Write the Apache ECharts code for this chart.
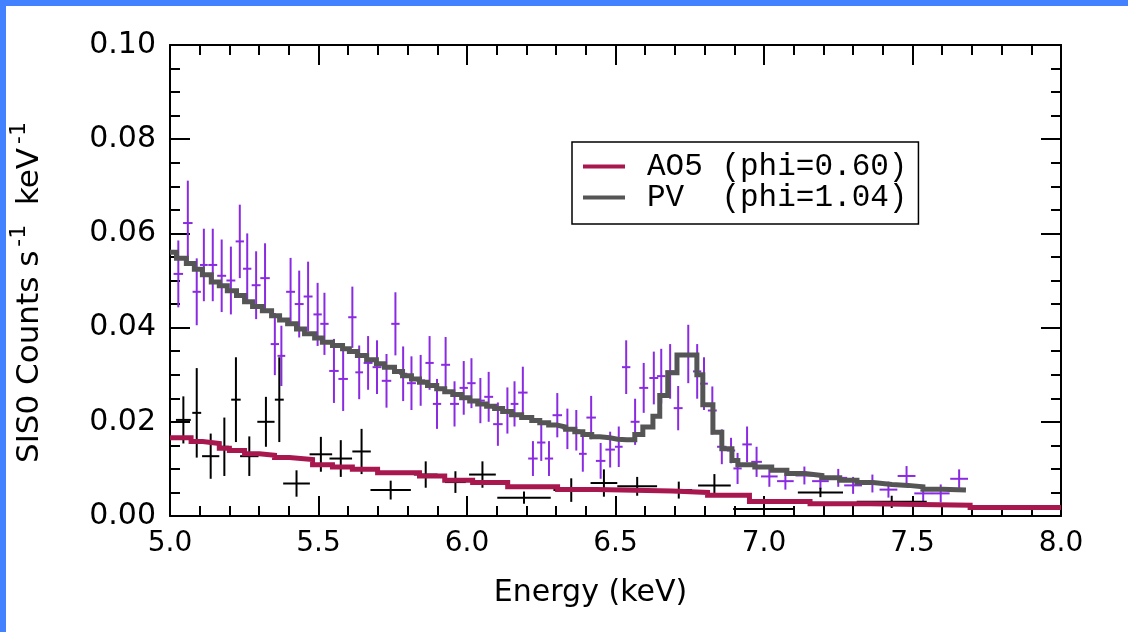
<!DOCTYPE html>
<html>
<head>
<meta charset="utf-8">
<script src="https://cdn.jsdelivr.net/npm/echarts@6/dist/echarts.min.js"></script>
<style>
  html, body { margin: 0; padding: 0; background: #fff; }
  #wrap { position: relative; width: 1128px; height: 632px; overflow: hidden; background: #fff; }
  #chart { position: absolute; left: 0; top: 0; width: 1128px; height: 632px; }
  .edgeTop { position: absolute; left: 0; top: 0; width: 1128px; height: 6px; background: #4281ff; }
  .edgeLeft { position: absolute; left: 0; top: 0; width: 6px; height: 632px; background: #4281ff; }
</style>
</head>
<body>
<div id="wrap">
  <div id="chart"></div>
  <div class="edgeTop"></div>
  <div class="edgeLeft"></div>
</div>
<script>
// ---------- PV (phi=1.04) data: bin centre (keV), rate, 1-sigma error, bin half-width ----------
const pvE = [5.028,5.060,5.090,5.114,5.144,5.174,5.205,5.235,5.260,5.290,
             5.320,5.353,5.375,5.406,5.435,5.465,5.497,5.520,5.552,5.583,
             5.614,5.637,5.667,5.697,5.729,5.759,5.785,5.813,5.844,5.874,
             5.899,5.928,5.958,5.989,6.015,6.045,6.073,6.104,6.136,6.160,
             6.188,6.222,6.250,6.276,6.304,6.338,6.368,6.390,6.418,6.450,
             6.482,6.511,6.536,6.566,6.595,6.629,6.654,6.684,6.711,6.745,
             6.775,6.798,6.826,6.858,6.889,6.911,6.943,6.975,7.018,7.072,
             7.136,7.190,7.250,7.300,7.365,7.419,7.480,7.536,7.595,7.657];
const pvY = [0.0514,0.0622,0.0476,0.0533,0.0533,0.0510,0.0500,0.0583,0.0525,0.0490,
             0.0505,0.0365,0.0340,0.0476,0.0450,0.0466,0.0428,0.0408,0.0308,0.0291,
             0.0422,0.0305,0.0325,0.0316,0.0287,0.0408,0.0302,0.0282,0.0288,0.0325,
             0.0238,0.0321,0.0238,0.0272,0.0282,0.0245,0.0253,0.0195,0.0224,0.0238,
             0.0262,0.0122,0.0156,0.0122,0.0214,0.0185,0.0182,0.0132,0.0209,0.0117,
             0.0141,0.0147,0.0316,0.0200,0.0272,0.0293,0.0297,0.0307,0.0229,0.0344,
             0.0307,0.0281,0.0224,0.0147,0.0139,0.0101,0.0152,0.0115,0.0084,0.0074,
             0.0086,0.0074,0.0081,0.0065,0.0069,0.0056,0.0085,0.0048,0.0048,0.0079];
const pvErr = [0.0071,0.0090,0.0071,0.0077,0.0077,0.0077,0.0072,0.0078,0.0075,0.0072,
               0.0074,0.0066,0.0064,0.0072,0.0071,0.0074,0.0067,0.0066,0.0068,0.0068,
               0.0065,0.0057,0.0057,0.0057,0.0057,0.0067,0.0058,0.0057,0.0054,0.0057,
               0.0053,0.0059,0.0048,0.0057,0.0053,0.0048,0.0053,0.0046,0.0049,0.0048,
               0.0055,0.0037,0.0039,0.0037,0.0047,0.0043,0.0043,0.0038,0.0046,0.0038,
               0.0038,0.0043,0.0057,0.0049,0.0053,0.0056,0.0058,0.0058,0.0047,0.0062,
               0.0058,0.0056,0.0051,0.0037,0.0027,0.0033,0.0038,0.0032,0.0022,0.0018,
               0.0019,0.0017,0.0019,0.0018,0.0019,0.0017,0.0021,0.0017,0.0019,0.0020];
const pvHw = [0.016,0.016,0.014,0.013,0.015,0.015,0.015,0.014,0.014,0.015,
              0.016,0.014,0.013,0.015,0.015,0.015,0.014,0.014,0.016,0.016,
              0.014,0.013,0.015,0.015,0.016,0.014,0.014,0.015,0.015,0.014,
              0.014,0.015,0.015,0.014,0.014,0.015,0.015,0.016,0.014,0.013,
              0.016,0.016,0.014,0.014,0.016,0.016,0.013,0.013,0.016,0.016,
              0.016,0.013,0.014,0.015,0.015,0.015,0.014,0.015,0.015,0.016,
              0.014,0.013,0.015,0.016,0.014,0.014,0.016,0.018,0.028,0.028,
              0.030,0.028,0.030,0.030,0.030,0.030,0.030,0.030,0.030,0.030];

// ---------- AO5 (phi=0.60) data ----------
const aoE = [5.045,5.090,5.137,5.183,5.222,5.267,5.323,5.368,5.426,5.508,
             5.575,5.645,5.743,5.861,5.961,6.052,6.192,6.351,6.461,6.573,
             6.713,6.833,7.000,7.190,7.430];
const aoY = [0.0204,0.0219,0.0127,0.0147,0.0247,0.0127,0.0200,0.0247,0.0069,0.0131,
             0.0122,0.0137,0.0055,0.0088,0.0072,0.0088,0.0039,0.0055,0.0070,0.0063,
             0.0055,0.0065,0.0015,0.0050,0.0030];
const aoErr = [0.0050,0.0095,0.0048,0.0062,0.0090,0.0042,0.0053,0.0090,0.0028,0.0037,
               0.0039,0.0048,0.0020,0.0028,0.0023,0.0028,0.0013,0.0025,0.0029,0.0020,
               0.0018,0.0024,0.0015,0.0010,0.0013];
const aoHw = [0.025,0.015,0.029,0.015,0.016,0.031,0.029,0.015,0.045,0.038,
              0.038,0.031,0.068,0.040,0.035,0.045,0.090,0.060,0.045,0.067,
              0.045,0.055,0.104,0.076,0.118];

// ---------- folded models: step left edges (keV) and values; last entry closes the final step ----------
const pvModelE = [5.000,5.022,5.055,5.082,5.109,5.139,5.166,5.193,5.224,5.251,
                  5.278,5.311,5.342,5.369,5.396,5.426,5.453,5.487,5.513,5.547,
                  5.581,5.604,5.631,5.662,5.695,5.722,5.756,5.783,5.813,5.840,
                  5.867,5.898,5.925,5.952,5.982,6.009,6.036,6.066,6.093,6.120,
                  6.150,6.184,6.218,6.245,6.275,6.302,6.332,6.363,6.390,6.420,
                  6.447,6.481,6.507,6.538,6.565,6.592,6.626,6.649,6.676,6.707,
                  6.774,6.794,6.828,6.858,6.892,6.912,6.969,7.026,7.077,7.138,
                  7.195,7.255,7.313,7.367,7.431,7.485,7.535,7.599,7.680];
const pvModelY = [0.0560,0.0547,0.0536,0.0524,0.0512,0.0497,0.0489,0.0478,0.0468,0.0455,
                  0.0445,0.0436,0.0425,0.0416,0.0408,0.0397,0.0387,0.0378,0.0369,0.0362,
                  0.0355,0.0349,0.0341,0.0332,0.0323,0.0316,0.0307,0.0298,0.0291,0.0284,
                  0.0277,0.0270,0.0264,0.0258,0.0251,0.0244,0.0238,0.0233,0.0228,0.0222,
                  0.0215,0.0209,0.0203,0.0198,0.0193,0.0189,0.0184,0.0179,0.0173,0.0168,
                  0.0166,0.0163,0.0162,0.0162,0.0173,0.0189,0.0212,0.0256,0.0304,0.0342,
                  0.0300,0.0236,0.0178,0.0143,0.0118,0.0109,0.0104,0.0097,0.0090,0.0086,
                  0.0081,0.0076,0.0071,0.0067,0.0065,0.0062,0.0057,0.0055,0.0055];
const aoModelE = [5.000,5.071,5.110,5.166,5.200,5.251,5.301,5.352,5.402,5.480,
                  5.547,5.614,5.699,5.840,5.925,6.019,6.137,6.305,6.437,6.690,
                  6.810,6.951,7.155,7.357,7.694,8.000];
const aoModelY = [0.0166,0.0158,0.0154,0.0144,0.0139,0.0132,0.0129,0.0124,0.0120,0.0109,
                  0.0104,0.0099,0.0092,0.0085,0.0076,0.0071,0.0062,0.0056,0.0053,0.0050,
                  0.0044,0.0031,0.0026,0.0023,0.0018,0.0018];

// ---------- axis ticks ----------
const xTicks = {min: 5.0, max: 8.0, interval: 0.5};
const yTicks = {min: 0.0, max: 0.10, interval: 0.02};

const seriesNames = ['AO5 (phi=0.60)', 'PV  (phi=1.04)'];

function zip4(a, b, c, d) { return a.map((v, i) => [v, b[i], c[i], d[i]]); }
function zip2(a, b) { return a.map((v, i) => [v, b[i]]); }

function errRender(color) {
  return function (params, api) {
    const x = api.value(0), y = api.value(1), e = api.value(2), h = api.value(3);
    const pTop = api.coord([x, y + e]);
    const pBot = api.coord([x, Math.max(y - e, 0)]);
    const pL = api.coord([x - h, y]);
    const pR = api.coord([x + h, y]);
    const style = {stroke: color, lineWidth: 2};
    return {
      type: 'group',
      children: [
        {type: 'line', shape: {x1: pTop[0], y1: pTop[1], x2: pBot[0], y2: pBot[1]}, style: style},
        {type: 'line', shape: {x1: pL[0], y1: pL[1], x2: pR[0], y2: pR[1]}, style: style}
      ]
    };
  };
}

const FONT = 'DejaVu Sans';
const axisCommonX = {
  type: 'value', min: xTicks.min, max: xTicks.max, interval: xTicks.interval,
  axisLine: {show: true, onZero: false, lineStyle: {color: '#000', width: 2}},
  axisTick: {show: true, inside: true, length: 20, lineStyle: {color: '#000', width: 2}},
  minorTick: {show: true, splitNumber: 5, length: 10, lineStyle: {color: '#000', width: 2}},
  splitLine: {show: false}, minorSplitLine: {show: false}
};
const axisCommonY = {
  type: 'value', min: yTicks.min, max: yTicks.max, interval: yTicks.interval,
  axisLine: {show: true, onZero: false, lineStyle: {color: '#000', width: 2}},
  axisTick: {show: true, inside: true, length: 20, lineStyle: {color: '#000', width: 2}},
  minorTick: {show: true, splitNumber: 4, length: 10, lineStyle: {color: '#000', width: 2}},
  splitLine: {show: false}, minorSplitLine: {show: false}
};

const chart = echarts.init(document.getElementById('chart'), null, {renderer: 'canvas'});
chart.setOption({
  animation: false,
  backgroundColor: 'transparent',
  textStyle: {fontFamily: FONT},
  grid: {left: 170, top: 45, width: 891, height: 471, containLabel: false},
  xAxis: [
    Object.assign({}, axisCommonX, {
      position: 'bottom',
      axisLabel: {show: true, fontSize: 28, color: '#000', fontFamily: FONT, margin: 14,
                  formatter: v => v.toFixed(1)},
      name: 'Energy (keV)', nameLocation: 'middle', nameGap: 62,
      nameTextStyle: {fontSize: 30, color: '#000', fontFamily: FONT, padding: [0, 50, 0, 0]}
    }),
    Object.assign({}, axisCommonX, {position: 'top', axisLabel: {show: false}})
  ],
  yAxis: [
    Object.assign({}, axisCommonY, {
      position: 'left',
      axisLabel: {show: true, fontSize: 30, color: '#000', fontFamily: FONT, margin: 14,
                  formatter: v => v.toFixed(2)},
      name: 'SIS0 Counts s{sup|-1}  keV{sup|-1}', nameLocation: 'middle', nameGap: 118,
      nameTextStyle: {
        fontSize: 31, color: '#000', fontFamily: FONT, lineHeight: 44, padding: [0, 24, 0, 0],
        rich: {sup: {fontSize: 22, color: '#000', fontFamily: FONT, verticalAlign: 'top', lineHeight: 44, padding: [0, 0, 16, 4]}}
      }
    }),
    Object.assign({}, axisCommonY, {position: 'right', axisLabel: {show: false}})
  ],
  legend: {
    show: true, orient: 'vertical', left: 572, top: 142,
    padding: [9, 11, 11, 11], itemGap: 0, itemWidth: 42, itemHeight: 4,
    backgroundColor: '#fff', borderColor: '#000', borderWidth: 1.5, borderRadius: 0,
    selectedMode: false, icon: 'rect',
    data: seriesNames,
    textStyle: {fontFamily: 'Liberation Mono', fontSize: 31, lineHeight: 28, color: '#000', padding: [0, 0, 0, 17]}
  },
  series: [
    {type: 'custom', name: 'PV data', xAxisIndex: 0, yAxisIndex: 0, renderItem: errRender('#8a2be2'),
     data: zip4(pvE, pvY, pvErr, pvHw), z: 2, clip: true},
    {type: 'custom', name: 'AO5 data', xAxisIndex: 0, yAxisIndex: 0, renderItem: errRender('#000000'),
     data: zip4(aoE, aoY, aoErr, aoHw), z: 2, clip: true},
    {type: 'line', name: seriesNames[0], step: 'end', showSymbol: false, symbol: 'none', z: 3,
     data: zip2(aoModelE, aoModelY), color: '#a8174e',
     lineStyle: {color: '#a8174e', width: 5, join: 'miter', cap: 'butt'}},
    {type: 'line', name: seriesNames[1], step: 'end', showSymbol: false, symbol: 'none', z: 4,
     data: zip2(pvModelE, pvModelY), color: '#555555',
     lineStyle: {color: '#555555', width: 5, join: 'miter', cap: 'butt'}}
  ]
});
</script>
</body>
</html>
